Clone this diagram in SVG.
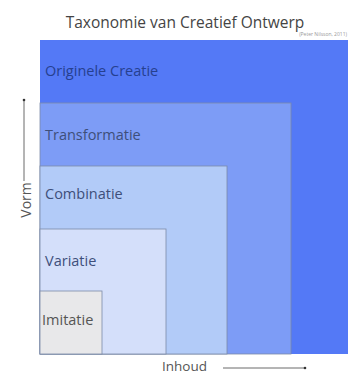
<svg xmlns="http://www.w3.org/2000/svg" width="349" height="376" viewBox="0 0 349 376">
<style>
text{font-family:"Open Sans","Liberation Sans",sans-serif}
.lbl{font-size:14.5px;fill:#3e4f7a}
.box{stroke:#7c8aa8;stroke-width:0.8}
.axis{stroke:#444;stroke-width:0.8;fill:none}
</style>
<defs>
<marker id="dot" markerWidth="4" markerHeight="4" refX="2" refY="2" markerUnits="userSpaceOnUse">
<circle cx="2" cy="2" r="1.3" fill="#333"/>
</marker>
</defs>
<rect width="349" height="376" fill="#ffffff"/>
<text x="185" y="28" font-size="15.5" fill="#444" text-anchor="middle">Taxonomie van Creatief Ontwerp</text>
<text x="347" y="36" font-size="5" fill="#999" text-anchor="end">(Peter Nilsson, 2011)</text>
<g id="originele">
<rect x="40" y="40" width="308" height="314" fill="#5479f6"/>
<text class="lbl" x="45" y="76" style="fill:#26408f">Originele Creatie</text>
</g>
<g id="transformatie">
<rect class="box" x="40" y="103" width="251" height="251" fill="#7d9cf6"/>
<text class="lbl" x="45" y="140">Transformatie</text>
</g>
<g id="combinatie">
<rect class="box" x="40" y="166" width="187" height="188" fill="#b2cbf8"/>
<text class="lbl" x="45" y="199">Combinatie</text>
</g>
<g id="variatie">
<rect class="box" x="40" y="229" width="126" height="125" fill="#d4dffa"/>
<text class="lbl" x="45" y="266">Variatie</text>
</g>
<g id="imitatie">
<rect class="box" x="40" y="291" width="62" height="63" fill="#e8e8ea"/>
<text class="lbl" x="42" y="325" style="fill:#555">Imitatie</text>
</g>
<g id="connectors">
<line class="axis" x1="24" y1="181" x2="24" y2="100" marker-end="url(#dot)"/>
<line class="axis" x1="223" y1="368" x2="305" y2="368" marker-end="url(#dot)"/>
</g>
<text x="0" y="0" font-size="14" fill="#555" text-anchor="middle" transform="translate(31,200) rotate(-90)">Vorm</text>
<text x="162" y="371" font-size="13.5" fill="#555">Inhoud</text>
</svg>
